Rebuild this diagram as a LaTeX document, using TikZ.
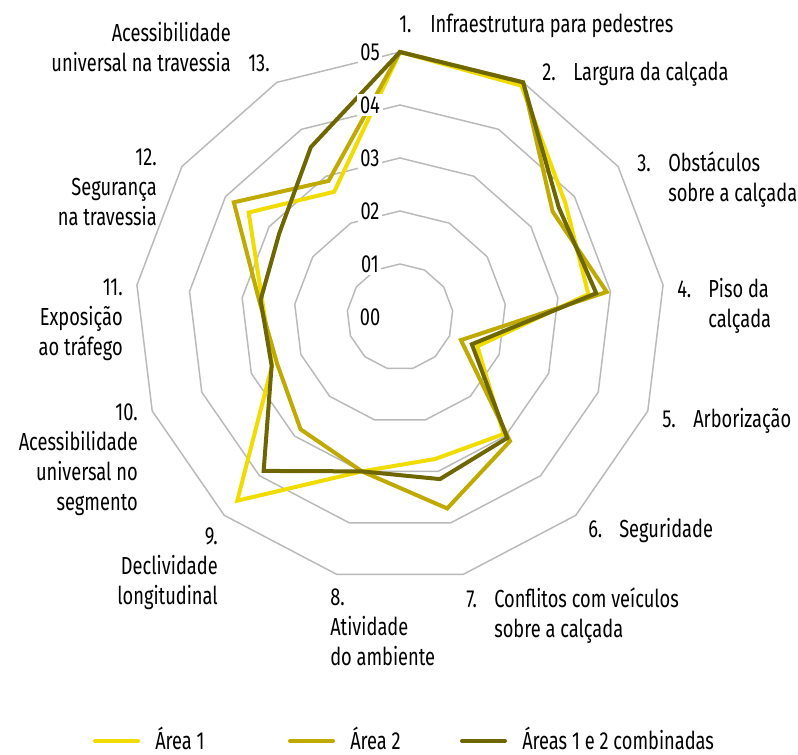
\documentclass[tikz,border=0pt]{standalone}
\usepackage{fontspec}
\setmainfont{Fira Sans}[FakeStretch=0.74]
\usepackage{tikz}
\usetikzlibrary{positioning,calc}

\definecolor{areaone}{RGB}{240,220,0}
\definecolor{areatwo}{RGB}{190,170,0}
\definecolor{areaboth}{RGB}{110,102,0}
\definecolor{gridgray}{RGB}{185,185,185}

\newcommand{\chartfont}{\fontsize{18.5}{22.5}\selectfont}
\def\rscale{53}

\begin{document}
\begin{tikzpicture}[x=0.75pt,y=0.75pt,
font=\chartfont, line join=miter]

\tikzstyle{grid line}=[draw=gridgray, line width=1.1pt]
\tikzstyle{serie}=[line width=3pt]
\tikzstyle{ring label}=[fill=white, inner sep=2pt]
\tikzstyle{axis label}=[inner sep=0pt]
\tikzstyle{key line}=[line width=3pt, line cap=round]

\useasboundingbox (-400,-437) rectangle (398,317);

%rings
\foreach \r in {1,...,5}
\draw[grid line] (90:\r*\rscale)
\foreach \k in {1,...,12} {-- ({90-\k*360/13}:\r*\rscale)} -- cycle;

%areas
\draw[serie, areaone] (90:5*\rscale)
\foreach \v [count=\k] in {4.93,3.79,3.58,1.56,2.95,2.76,3,4.63,2.58,2.62,3.47,2.67}
{-- ({90-\k*360/13}:\v*\rscale)} -- cycle;

\draw[serie, areatwo] (90:5*\rscale)
\foreach \v [count=\k] in {5,3.5,3.93,1.23,3.13,3.72,3,2.83,2.48,2.68,3.81,2.9}
{-- ({90-\k*360/13}:\v*\rscale)} -- cycle;

\draw[serie, areaboth] (90:5*\rscale)
\foreach \v [count=\k] in {5,3.64,3.73,1.45,3.05,3.15,3,3.88,2.59,2.65,2.77,3.62}
{-- ({90-\k*360/13}:\v*\rscale)} -- cycle;

%scale
\foreach \r in {0,...,5}
\node[ring label] (r\r) at (-30,\r*\rscale) {0\r};

%axis names (multi-line: base = last line)
\node[axis label, anchor=base west] (n1) at (-1,285) {1.};
\node[axis label, anchor=base west] (t1) at ([xshift=23.25pt]n1.base west) {Infraestrutura para pedestres};

\node[axis label, anchor=base west] (n2) at (142,237) {2.};
\node[axis label, anchor=base west] (t2) at ([xshift=23.25pt]n2.base west) {Largura da calçada};

\node[axis label, anchor=base west] (n3) at (237,146) {3.};
\node[axis label, anchor=base west, align=left] (t3) at ([xshift=23.25pt]n3.base west |- 0,116) {Obstáculos\\sobre a calçada};

\node[axis label, anchor=base west] (n4) at (277,20) {4.};
\node[axis label, anchor=base west, align=left] (t4) at ([xshift=23.25pt]n4.base west |- 0,-10) {Piso da\\calçada};

\node[axis label, anchor=base west] (n5) at (262,-110) {5.};
\node[axis label, anchor=base west] (t5) at ([xshift=23.25pt]n5.base west) {Arborização};

\node[axis label, anchor=base west] (n6) at (188,-220) {6.};
\node[axis label, anchor=base west] (t6) at ([xshift=23.25pt]n6.base west) {Seguridade};

\node[axis label, anchor=base west] (n7) at (66,-290) {7.};
\node[axis label, anchor=base west, align=left] (t7) at ([xshift=21pt]n7.base west |- 0,-320) {Conflitos com veículos\\sobre a calçada};

\node[axis label, anchor=base west, align=left] (t8) at (-70,-348) {8.\\Atividade\\do ambiente};

\node[axis label, anchor=base east, align=right] (t9) at (-182,-287) {9.\\Declividade\\longitudinal};

\node[axis label, anchor=base east, align=right] (t10) at (-262,-193) {10.\\Acessibilidade\\universal no\\segmento};

\node[axis label, anchor=base east, align=right] (t11) at (-277,-38) {11.\\Exposição\\ao tráfego};

\node[axis label, anchor=base east, align=right] (t12) at (-243,92) {12.\\Segurança\\na travessia};

\node[axis label, anchor=base east, align=right] (t13) at (-169,246) {Acessibilidade\\universal na travessia};
\node[axis label, anchor=base west] (n13) at (-152,246) {13.};

%legend
\coordinate (k1) at (-305,-424);
\coordinate (k2) at (-110,-424);
\coordinate (k3) at (62,-424);
\draw[key line, areaone] (k1) -- ++(43,0);
\draw[key line, areatwo] (k2) -- ++(43,0);
\draw[key line, areaboth] (k3) -- ++(43,0);
\node[axis label, anchor=base west] (l1) at (-245,-432) {Área 1};
\node[axis label, anchor=base west] (l2) at (-50,-432) {Área 2};
\node[axis label, anchor=base west] (l3) at (122,-432) {Áreas 1 e 2 combinadas};

\end{tikzpicture}
\end{document}
